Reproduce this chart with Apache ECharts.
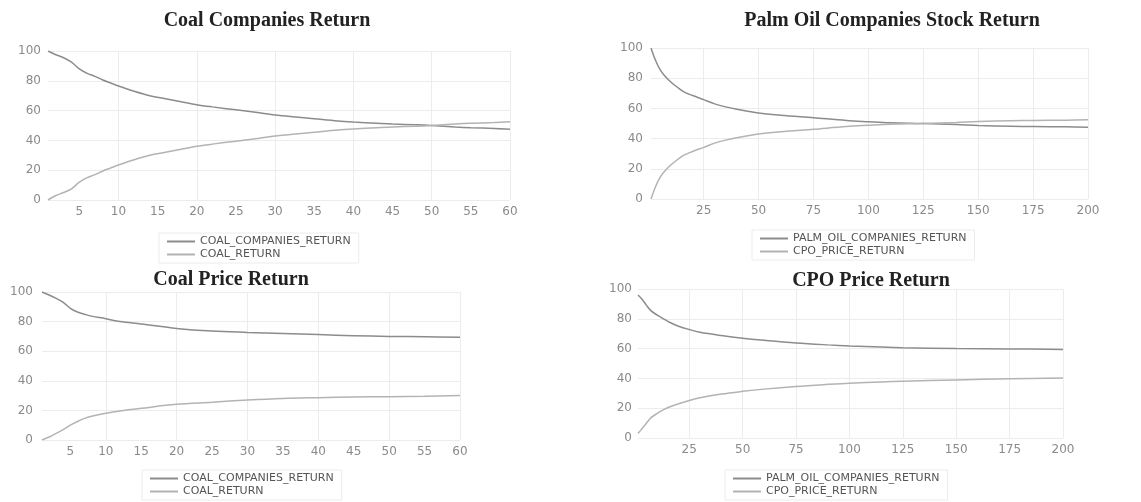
<!DOCTYPE html>
<html>
<head>
<meta charset="utf-8">
<script src="https://cdn.jsdelivr.net/npm/echarts@6/dist/echarts.min.js"></script>
<style>html,body{margin:0;padding:0;background:#fff}#c{width:1141px;height:502px}</style>
</head>
<body>
<div id="c"></div>
<script>
// ---- Data ----
const titles = ['Coal Companies Return', 'Palm Oil Companies Stock Return', 'Coal Price Return', 'CPO Price Return'];
const coalNames = ['COAL_COMPANIES_RETURN', 'COAL_RETURN'];
const palmNames = ['PALM_OIL_COMPANIES_RETURN', 'CPO_PRICE_RETURN'];

const xLabelsCoal = [5, 10, 15, 20, 25, 30, 35, 40, 45, 50, 55, 60];
const xGridCoal = [10, 20, 30, 40, 50, 60];
const xLabelsPalm = [25, 50, 75, 100, 125, 150, 175, 200];
const xGridPalm = [25, 50, 75, 100, 125, 150, 175, 200];

// Panel 1: Coal Companies Return
const p1Periods = [1,2,3,4,5,6,7,8,9,10,12,14,16,18,20,22,25,28,30,33,35,38,40,43,45,48,50,53,55,58,60];
const p1Companies = [100,97.5,95.5,92.5,88,85,83,80.5,78.5,76.5,73,70,68,66,64,62.5,60.5,58.5,57,55.5,54.5,53,52.3,51.5,51,50.5,50,49,48.5,48,47.5];
const p1Coal = [0,3,5,7.5,12,15,17,19.5,21.5,23.5,27,30,32,34,36,37.5,39.5,41.5,43,44.5,45.5,47,47.7,48.5,49,49.5,50,51,51.5,52,52.5];

// Panel 2: Palm Oil Companies Stock Return
const p2Periods = [1,3,5,7,10,13,16,20,25,30,35,40,50,60,75,90,100,110,125,140,150,165,175,190,200];
const p2Companies = [100,92,86,82,77.5,74,71,68.5,65.8,63,61,59.5,57,55.5,53.8,52,51.2,50.5,50,49.3,48.7,48.2,48,47.8,47.5];
const p2Cpo = [0,8,14,18,22.5,26,29,31.5,34.2,37,39,40.5,43,44.5,46.2,48,48.8,49.5,50,50.7,51.3,51.8,52,52.2,52.5];

// Panel 3: Coal Price Return
const p3Periods = [1,2,3,4,5,6,7,8,10,12,15,20,25,30,35,40,45,50,55,60];
const p3Companies = [100,98,95.7,93,89,86.5,85,83.7,82,80,78.4,75.4,73.6,72.7,72,71.2,70.5,70,69.8,69.4];
const p3Coal = [0,2,4.5,7,10,12.5,14.6,16,18,19.6,21.4,24.1,25.5,27,28.1,28.6,29,29.3,29.6,30];

// Panel 4: CPO Price Return
const p4Periods = [1,3,5,7,10,13,16,20,25,30,40,50,60,75,90,100,115,125,150,175,200];
const p4Companies = [96,93,89,85.5,82.5,80,77.5,75,72.8,71,68.8,67,65.6,63.8,62.5,61.8,61,60.6,60.1,59.8,59.4];
const p4Cpo = [3,6.5,10,13.5,16.5,19,21,23,25.2,27,29.5,31.3,32.8,34.6,36,36.8,37.6,38.1,39,39.7,40.3];

// ---- Build ----
const zip = (xs, ys) => xs.map((x, i) => [x, ys[i]]);
const panels = [
  {grid:{left:48, top:51, width:462, height:149}, xmax:60, labels:xLabelsCoal, gridX:xGridCoal, names:coalNames, x:p1Periods, a:p1Companies, b:p1Coal,
   title:{cx:262, top:6}, legend:{left:159, top:233}, ylm:7},
  {grid:{left:651, top:48, width:437, height:151}, xmax:200, labels:xLabelsPalm, gridX:xGridPalm, names:palmNames, x:p2Periods, a:p2Companies, b:p2Cpo,
   title:{cx:887, top:6}, legend:{left:752, top:230}, ylm:8},
  {grid:{left:42, top:292, width:418, height:148}, xmax:60, labels:xLabelsCoal, gridX:xGridCoal, names:coalNames, x:p3Periods, a:p3Companies, b:p3Coal,
   title:{cx:226, top:265}, legend:{left:142, top:470}, ylm:9},
  {grid:{left:638, top:289, width:425, height:149}, xmax:200, labels:xLabelsPalm, gridX:xGridPalm, names:palmNames, x:p4Periods, a:p4Companies, b:p4Cpo,
   title:{cx:866, top:266}, legend:{left:725, top:470}, ylm:6}
];

const labelFont = {color:'#8a8a8a', fontFamily:'DejaVu Sans', fontSize:12};
const option = {
  animation:false,
  backgroundColor:'#fff',
  title: panels.map((p, i) => ({
    text: titles[i], left: p.title.cx, top: p.title.top, textAlign:'center',
    textStyle:{fontFamily:'Liberation Serif', fontWeight:'bold', fontSize:20, color:'#222'}
  })),
  legend: panels.map(p => ({
    data: p.names, orient:'vertical', left:p.legend.left, top:p.legend.top,
    padding:[2,8], itemGap:0, itemWidth:28, itemHeight:2, icon:'rect',
    borderColor:'#ececec', borderWidth:1,
    textStyle:{color:'#555', fontFamily:'DejaVu Sans', fontSize:11, lineHeight:13}
  })),
  grid: panels.map(p => Object.assign({containLabel:false}, p.grid)),
  xAxis: panels.map((p, i) => ({
    type:'value', gridIndex:i, min:1, max:p.xmax,
    axisLine:{show:false},
    axisTick:{show:false, customValues:p.gridX},
    axisLabel:Object.assign({customValues:p.labels, margin:6}, labelFont),
    splitLine:{show:true, lineStyle:{color:'#ececec', width:1}}
  })),
  yAxis: panels.map((p, i) => ({
    type:'value', gridIndex:i, min:0, max:100, interval:20,
    axisLine:{show:false}, axisTick:{show:false},
    axisLabel:Object.assign({margin:p.ylm}, labelFont),
    splitLine:{show:true, lineStyle:{color:'#ececec', width:1}}
  })),
  series: []
};
panels.forEach((p, i) => {
  option.series.push({
    name:p.names[0], type:'line', xAxisIndex:i, yAxisIndex:i, data:zip(p.x, p.a),
    symbol:'none', smooth:0.35, lineStyle:{color:'#8c8c8c', width:1.5}, itemStyle:{color:'#8c8c8c'}
  });
  option.series.push({
    name:p.names[1], type:'line', xAxisIndex:i, yAxisIndex:i, data:zip(p.x, p.b),
    symbol:'none', smooth:0.35, lineStyle:{color:'#b3b3b3', width:1.5}, itemStyle:{color:'#b3b3b3'}
  });
});
const chart = echarts.init(document.getElementById('c'), null, {renderer:'canvas'});
chart.setOption(option);
</script>
</body>
</html>
